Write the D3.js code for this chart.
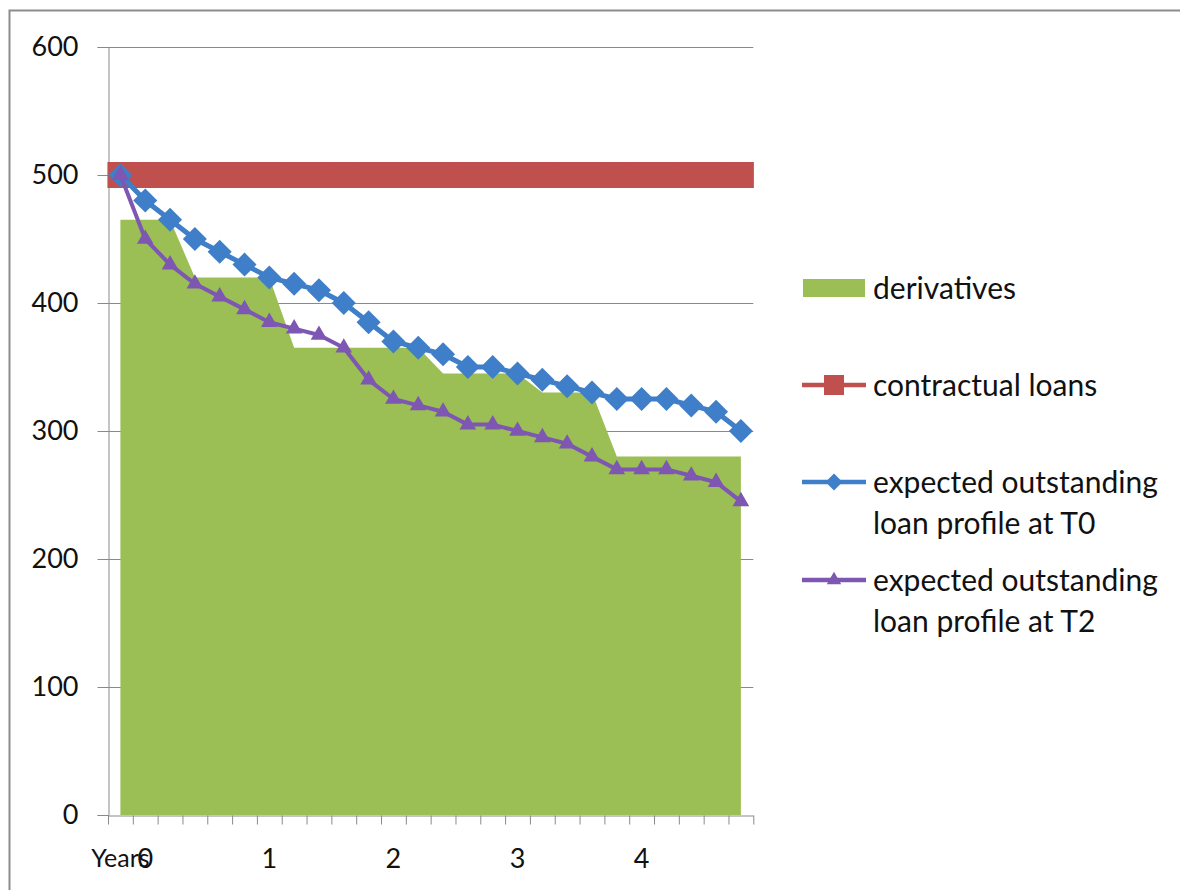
<!DOCTYPE html>
<html>
<head>
<meta charset="utf-8">
<script src="https://cdn.jsdelivr.net/npm/d3@7"></script>
<style>
  html, body { margin: 0; padding: 0; background: #fff; }
  svg { display: block; }
  text { font-family: Lato, "Open Sans", sans-serif; fill: #111; }
</style>
</head>
<body>
<svg id="chart" width="1180" height="890"></svg>
<script>
// Category axis: 26 periods, the first slot carries the axis caption
const categoryLabels = ["Years", "0", "", "", "", "", "1", "", "", "", "", "2", "", "", "", "",
  "3", "", "", "", "", "4", "", "", "", ""];

// Hedged volume (stepped area)
const derivatives = [465, 465, 465, 420, 420, 420, 420, 365, 365, 365, 365, 365, 365,
  345, 345, 345, 345, 330, 330, 330, 280, 280, 280, 280, 280, 280];

// Contractual loan amount
const contractualLoans = [500, 500, 500, 500, 500, 500, 500, 500, 500, 500, 500, 500, 500,
  500, 500, 500, 500, 500, 500, 500, 500, 500, 500, 500, 500, 500];

// Expected outstanding loan profile at T0
const profileT0 = [500, 480, 465, 450, 440, 430, 420, 415, 410, 400, 385, 370, 365,
  360, 350, 350, 345, 340, 335, 330, 325, 325, 325, 320, 315, 300];

// Expected outstanding loan profile at T2
const profileT2 = [500, 450, 430, 415, 405, 395, 385, 380, 375, 365, 340, 325, 320,
  315, 305, 305, 300, 295, 290, 280, 270, 270, 270, 265, 260, 245];

const yTicks = [0, 100, 200, 300, 400, 500, 600];

const seriesNames = ["derivatives", "contractual loans",
  "expected outstanding\nloan profile at T0", "expected outstanding\nloan profile at T2"];

const colors = {
  green: "#9bbf55",
  red: "#c0504d",
  blue: "#3f7ec8",
  purple: "#7d57b1",
  grid: "#8a8a8a"
};

const svg = d3.select("#chart");

// outer frame of the chart object
svg.append("path")
  .attr("d", "M9.5,890 L9.5,10.5 L1180,10.5")
  .attr("fill", "none")
  .attr("stroke", "#8c8c8c")
  .attr("stroke-width", 2);

const plot = { left: 108, right: 753.3, top: 47, bottom: 815 };
const idx = d3.range(categoryLabels.length);

const x = d3.scaleBand().domain(idx).range([plot.left, plot.right]).padding(0);
const xEdge = d3.scaleLinear().domain([0, idx.length]).range([plot.left, plot.right]);
const cx = i => x(i) + x.bandwidth() / 2;
const y = d3.scaleLinear().domain([0, 600]).range([plot.bottom, plot.top]);

// horizontal gridlines
svg.append("g")
  .selectAll("line")
  .data(yTicks.filter(t => t > 0))
  .join("line")
  .attr("x1", plot.left).attr("x2", plot.right)
  .attr("y1", d => Math.round(y(d)) + 0.5).attr("y2", d => Math.round(y(d)) + 0.5)
  .attr("stroke", colors.grid).attr("stroke-width", 1);

// derivatives area
svg.append("path")
  .datum(derivatives)
  .attr("fill", colors.green)
  .attr("d", d3.area()
    .x((d, i) => cx(i))
    .y0(y(0))
    .y1(d => y(d)));

// y axis
const yAxis = svg.append("g")
  .attr("transform", `translate(${plot.left + 0.5},0)`)
  .call(d3.axisLeft(y).tickValues(yTicks).tickSize(11).tickPadding(19).tickFormat(d3.format("d")));
yAxis.select(".domain").attr("stroke", colors.grid);
yAxis.selectAll(".tick line").attr("stroke", colors.grid);
yAxis.selectAll(".tick text")
  .style("font-family", "Lato, sans-serif")
  .style("font-size", "27px")
  .attr("fill", "#111");

// x axis: tick marks on category boundaries
const xTickAxis = svg.append("g")
  .attr("transform", `translate(0,${plot.bottom + 0.5})`)
  .call(d3.axisBottom(xEdge).tickValues(d3.range(idx.length + 1)).tickSize(9).tickSizeOuter(0).tickFormat(""));
xTickAxis.select(".domain").attr("stroke", colors.grid);
xTickAxis.selectAll(".tick line").attr("stroke", colors.grid);

// x axis: category labels
const xLabelAxis = svg.append("g")
  .attr("transform", `translate(0,${plot.bottom})`)
  .call(d3.axisBottom(x).tickSize(0).tickPadding(34).tickFormat(i => categoryLabels[i]));
xLabelAxis.select(".domain").remove();
xLabelAxis.selectAll(".tick text")
  .style("font-family", "Lato, sans-serif")
  .style("font-size", d => d === 0 ? "25px" : "27px")
  .attr("fill", "#111");

// line series with markers
const line = d3.line().x((d, i) => cx(i)).y(d => y(d));

function drawSeries(values, color, width, symbol, size, rotate) {
  const g = svg.append("g");
  g.append("path")
    .datum(values)
    .attr("fill", "none")
    .attr("stroke", color)
    .attr("stroke-width", width)
    .attr("stroke-linejoin", "round")
    .attr("d", line);
  g.selectAll("path.marker")
    .data(values)
    .join("path")
    .attr("class", "marker")
    .attr("fill", color)
    .attr("d", d3.symbol().type(symbol).size(size))
    .attr("transform", (d, i) => `translate(${cx(i)},${y(d)}) rotate(${rotate})`);
}

drawSeries(contractualLoans, colors.red, 8, d3.symbolSquare, 26 * 26, 0);
drawSeries(profileT0, colors.blue, 5, d3.symbolSquare, 17 * 17, 45);
drawSeries(profileT2, colors.purple, 4, d3.symbolTriangle, 120, 0);

// legend
const legend = svg.append("g");
const lx0 = 802, lx1 = 866, lmid = 834, textX = 873;
const rows = [
  { name: seriesNames[0], yc: 288, kind: "area", color: colors.green },
  { name: seriesNames[1], yc: 385, kind: "square", color: colors.red },
  { name: seriesNames[2], yc: 482, kind: "diamond", color: colors.blue },
  { name: seriesNames[3], yc: 580, kind: "triangle", color: colors.purple }
];

rows.forEach(r => {
  if (r.kind === "area") {
    legend.append("rect")
      .attr("x", 803).attr("y", r.yc - 9).attr("width", 62).attr("height", 18)
      .attr("fill", r.color);
  } else {
    legend.append("line")
      .attr("x1", lx0).attr("x2", lx1).attr("y1", r.yc).attr("y2", r.yc)
      .attr("stroke", r.color).attr("stroke-width", 4.5);
    const sym = r.kind === "triangle" ? d3.symbolTriangle : d3.symbolSquare;
    const size = r.kind === "square" ? 20 * 20 : r.kind === "diamond" ? 12 * 12 : 90;
    const rot = r.kind === "diamond" ? 45 : 0;
    legend.append("path")
      .attr("d", d3.symbol().type(sym).size(size))
      .attr("fill", r.color)
      .attr("transform", `translate(${lmid},${r.yc}) rotate(${rot})`);
  }
  const t = legend.append("text")
    .attr("x", textX)
    .attr("y", r.yc)
    .style("font-size", "30px");
  r.name.split("\n").forEach((part, k) => {
    t.append("tspan")
      .attr("x", textX)
      .attr("y", r.yc + k * 41)
      .attr("dy", "0.35em")
      .text(part);
  });
});
</script>
</body>
</html>
